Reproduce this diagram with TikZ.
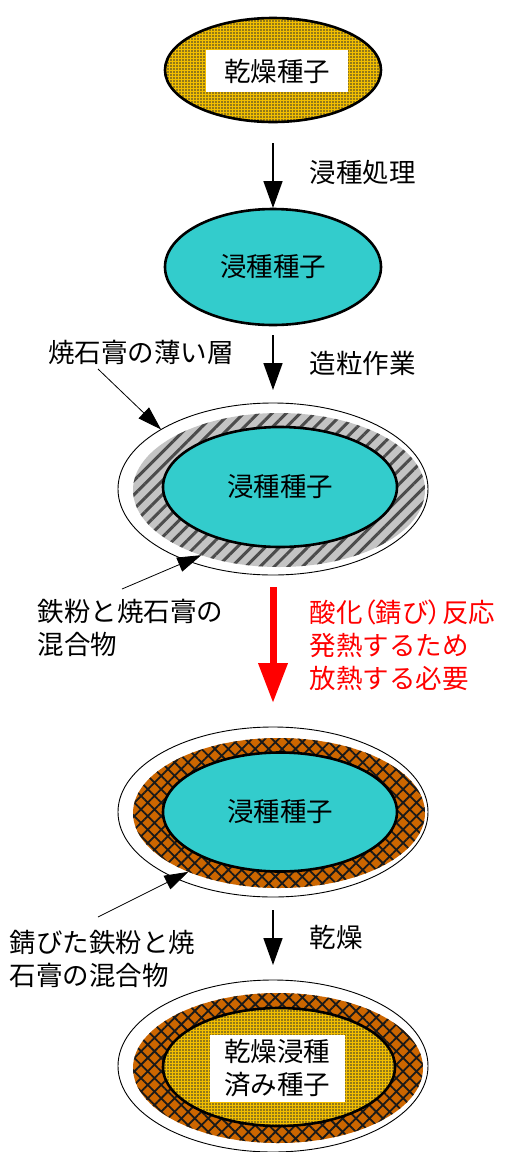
\documentclass[tikz,border=0pt]{standalone}
\usepackage{fontspec}
\setmainfont{Noto Sans CJK JP}
\usepackage{xcolor}
\usetikzlibrary{positioning, arrows.meta, shapes.geometric, patterns.meta}
\definecolor{seedgold}{HTML}{F2BE00}
\definecolor{soakcyan}{HTML}{33CCCC}
\definecolor{rustbrown}{HTML}{CC6600}
\definecolor{plastergray}{HTML}{C4C4C4}

\tikzset{
  shell/.style={ellipse, inner sep=0pt, outer sep=0pt},
  coreseed/.style={shell, draw=black, line width=2.6pt},
  drycore/.style={coreseed, preaction={fill=seedgold},
    pattern={Dots[distance=3pt, radius=0.8pt]}, pattern color=black!80},
  wetcore/.style={coreseed, fill=soakcyan},
  plasterskin/.style={shell, draw=black, line width=0.9pt, fill=white},
  mixlayer/.style={shell, preaction={fill=plastergray},
    pattern={Lines[angle=45, distance=10pt, line width=3pt]}, pattern color=black!70},
  rustlayer/.style={shell, preaction={fill=rustbrown},
    pattern={Hatch[angle=45, distance=9.5pt, line width=1.8pt]}, pattern color=black!90},
  tagbox/.style={fill=white, inner sep=0pt, align=center},
  stepline/.style={-{Triangle[width=19pt, length=27pt]}, line width=1.6pt},
  heatline/.style={-{Triangle[width=28pt, length=40pt]}, line width=7pt, draw=red},
  callout/.style={-{Triangle[width=15pt, length=24pt]}, line width=0.8pt},
}
\newcommand\jtext{\fontsize{26.5}{33}\selectfont}

\begin{document}
\begin{tikzpicture}[x=1pt, y=-1pt, font=\jtext]
  \useasboundingbox (0,0) rectangle (507,1152);

  % dry seed
  \node[drycore, minimum width=216pt, minimum height=104pt] (dryseed) at (273,70) {};
  \node[tagbox, minimum width=142pt, minimum height=42pt] (drytag) at (277,71) {乾燥種子};

  % soaked seed
  \node[wetcore, minimum width=216pt, minimum height=116pt] (soakseed) at (273,267) {浸種種子};
  \draw[stepline, shorten <=21pt, shorten >=1pt] (dryseed) -- (soakseed);
  \node[anchor=west] (soaklabel) at (306,172) {浸種処理};

  % coated seed
  \node[plasterskin, minimum width=310pt, minimum height=172pt] (skinA) at (273,489) {};
  \node[mixlayer, minimum width=292pt, minimum height=154pt] (mixA) at (279,490) {};
  \node[wetcore, minimum width=234pt, minimum height=120pt] (coreA) at (280,487) {浸種種子};
  \draw[stepline, shorten <=10pt, shorten >=13pt] (soakseed) -- (skinA);
  \node[anchor=west] (granlabel) at (306,363) {造粒作業};

  \node (layerlabel) at (141,352) {焼石膏の薄い層};
  \coordinate (layertail) at (98,369);
  \draw[callout] (layertail) -- (skinA.152);

  \node[anchor=west, align=left] (mixlabel) at (34,628) {鉄粉と焼石膏の\\混合物};
  \coordinate (mixtail) at (122,589);
  \draw[callout] (mixtail) -- (mixA.220);

  % rusted seed
  \node[plasterskin, minimum width=310pt, minimum height=170pt] (skinB) at (273,812) {};
  \node[rustlayer, minimum width=292pt, minimum height=150pt] (rustB) at (279,813) {};
  \node[wetcore, minimum width=234pt, minimum height=119pt] (coreB) at (280,812) {浸種種子};
  \draw[heatline, shorten <=12pt, shorten >=24pt] (skinA) -- (skinB);
  \node[anchor=west, align=left, text=red] (heatnote) at (306,645)
    {酸化{\addfontfeature{RawFeature=+palt}（}錆び{\addfontfeature{RawFeature=+palt}）}反応\\発熱するため\\放熱する必要};

  \node[anchor=west, align=left] (rustlabel) at (6,959) {錆びた鉄粉と焼\\石膏の混合物};
  \coordinate (rusttail) at (98,917);
  \draw[callout] (rusttail) -- (rustB.213);

  % dried seed
  \node[plasterskin, minimum width=310pt, minimum height=172pt] (skinC) at (273,1066) {};
  \node[rustlayer, minimum width=290pt, minimum height=150pt] (rustC) at (278,1068) {};
  \node[drycore, minimum width=232pt, minimum height=118pt] (coreC) at (279,1067) {};
  \node[tagbox, minimum width=135pt, minimum height=67pt] (finaltag) at (277,1068) {乾燥浸種\\済み種子};
  \draw[stepline, shorten <=13pt, shorten >=15pt] (skinB) -- (skinC);
  \node[anchor=west] (drylabel) at (306,937) {乾燥};
\end{tikzpicture}
\end{document}
